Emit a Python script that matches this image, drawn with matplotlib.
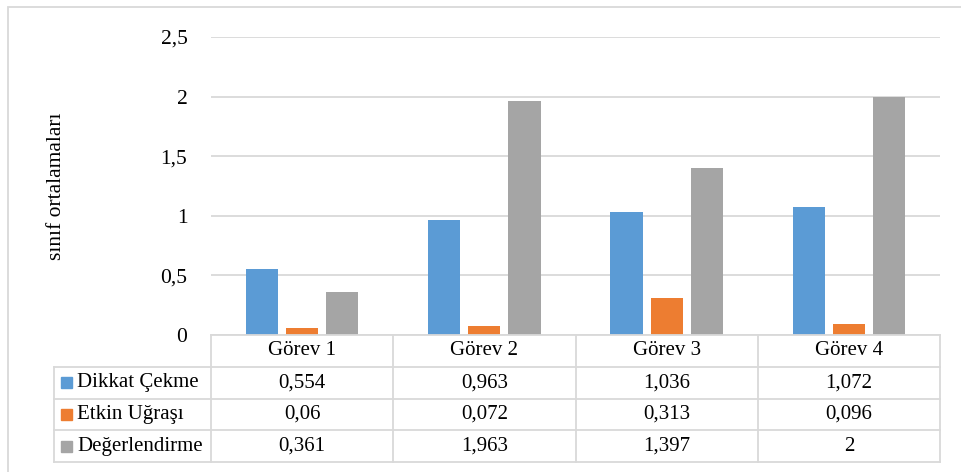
import matplotlib
matplotlib.use("Agg")
import matplotlib.pyplot as plt
from matplotlib.patches import Rectangle

# ortalama puanlar (görev x kategori)
gorevler = ["Görev 1", "Görev 2", "Görev 3", "Görev 4"]
seriler = ["Dikkat Çekme", "Etkin Uğraşı", "Değerlendirme"]
dikkat = [0.554, 0.963, 1.036, 1.072]
etkin = [0.06, 0.072, 0.313, 0.096]
degerlendirme = [0.361, 1.963, 1.397, 2]
renkler = ["#5B9BD5", "#ED7D31", "#A5A5A5"]
yticks = [0, 0.5, 1, 1.5, 2, 2.5]

def fmt(v):
    s = f"{v:g}"
    return s.replace(".", ",")

plt.rcParams["font.family"] = ["Liberation Serif", "DejaVu Serif"]
W, H = 961, 472
FS = 15
fig = plt.figure(figsize=(W / 100, H / 100), dpi=100)
GRID = "#D9D9D9"

# dış çerçeve
fig.patches.append(Rectangle((8 / W, -0.1), 1.2, 1 - 7 / H + 0.1, transform=fig.transFigure,
                             fill=False, ec=GRID, lw=1.3))

x0, x1 = 211 / W, 940 / W
y_zero, y_top = 1 - 335 / H, 1 - 37 / H
ax = fig.add_axes([x0, y_zero, x1 - x0, y_top - y_zero])
ax.set_xlim(-0.5, 3.5)
ax.set_ylim(0, 2.5)
for s in ax.spines.values():
    s.set_visible(False)
ax.set_yticks(yticks)
ax.set_yticklabels([fmt(t) for t in yticks], fontsize=FS + 0.5)
ax.tick_params(axis="y", length=0, pad=17)
ax.set_xticks([])
ax.grid(axis="y", color=GRID, lw=1.3)
ax.set_axisbelow(True)

bw, step = 0.176, 0.22
for k, (vals, c) in enumerate(zip([dikkat, etkin, degerlendirme], renkler)):
    xs = [i + (k - 1) * step for i in range(len(gorevler))]
    ax.bar(xs, vals, width=bw, color=c, zorder=3)

ax.set_ylabel("sınıf ortalamaları", fontsize=FS + 0.5)
ax.yaxis.label.set_verticalalignment("center")
ax.yaxis.set_label_coords((57 - 211) / (940 - 211), 0.5)

# veri tablosu
tb_bottom = 1 - 462 / H
tax = fig.add_axes([x0, tb_bottom, x1 - x0, y_zero - tb_bottom])
tax.set_xlim(-0.5, 3.5)
tax.set_ylim(4, 0)
tax.axis("off")
sol = -0.5 - (211 - 54) / ((940 - 211) / 4)
lk = dict(color=GRID, lw=1.3, clip_on=False)
# yatay çizgiler
tax.plot([-0.5, 3.5], [0, 0], **lk)
for r in range(1, 5):
    tax.plot([sol, 3.5], [r, r], **lk)
# dikey çizgiler
tax.plot([sol, sol], [1, 4], **lk)
for c in range(5):
    tax.plot([c - 0.5, c - 0.5], [0, 4], **lk)

for i, g in enumerate(gorevler):
    tax.text(i, 0.5, g, ha="center", va="center", fontsize=FS)
for r, (ad, vals, c) in enumerate(zip(seriler, [dikkat, etkin, degerlendirme], renkler), start=1):
    tax.add_patch(Rectangle((sol + 0.04, r + 0.5 - 0.17), 0.06, 0.34, color=c, clip_on=False))
    tax.text(sol + 0.127, r + 0.5, ad, ha="left", va="center", fontsize=FS)
    for i, v in enumerate(vals):
        tax.text(i, r + 0.5, fmt(v), ha="center", va="center", fontsize=FS)

fig.savefig("out.png", dpi=100)
